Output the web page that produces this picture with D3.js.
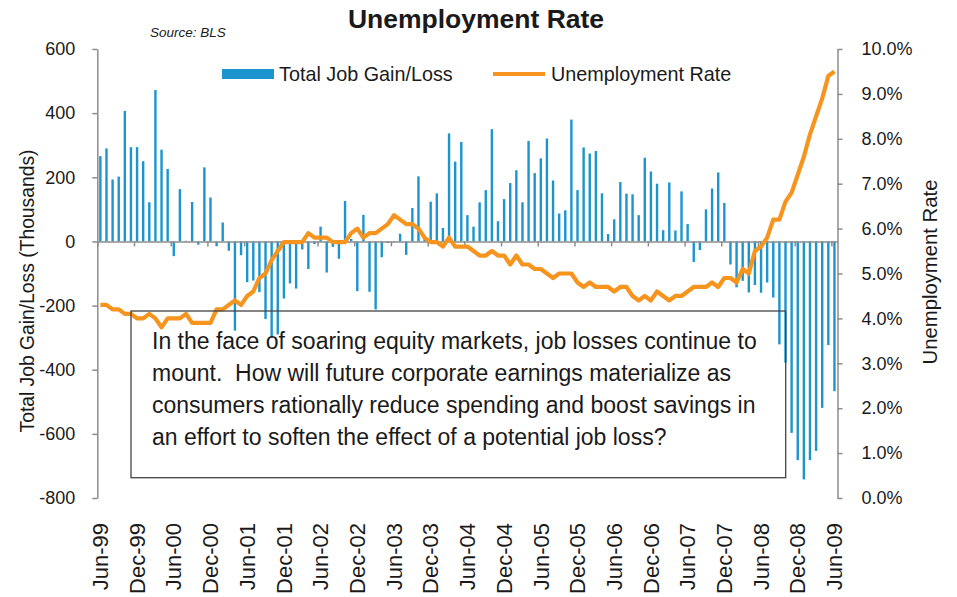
<!DOCTYPE html>
<html>
<head>
<meta charset="utf-8">
<script src="https://cdn.jsdelivr.net/npm/d3@7"></script>
<style>
  body { margin: 0; background: #fff; }
  svg { display: block; }
  text { font-family: "Liberation Sans", Arial, sans-serif; fill: #1a1a1a; }
</style>
</head>
<body>
<div id="chart"></div>
<script>

// monthly payroll change (thousands), Jun-99 .. Jun-09
var jobChange = [
  266, 290, 193, 202, 407, 294, 294, 250, 122, 472, 286, 226,    // Jun-99 .. May-00
  -46, 163, 2, 123, -10, 231, 137, -15, 59, -29, -278, -43,      // Jun-00 .. May-01
  -127, -122, -158, -242, -300, -290, -178, -131, -147, -25, -86, -8,   // Jun-01 .. May-02
  46, -97, -17, -54, 126, 8, -155, 83, -157, -212, -49, -5,      // Jun-02 .. May-03
  -2, 24, -42, 104, 203, 17, 124, 150, 42, 337, 249, 310,        // Jun-03 .. May-04
  82, 46, 122, 160, 350, 63, 132, 182, 222, 122, 313, 213,       // Jun-04 .. May-05
  259, 321, 190, 87, 97, 380, 160, 293, 274, 282, 150, 23,       // Jun-05 .. May-06
  69, 185, 149, 147, 82, 261, 218, 180, 35, 184, 34, 156,        // Jun-06 .. May-07
  54, -64, -27, 100, 165, 215, 120, -72, -143, -123, -159, -136, // Jun-07 .. May-08
  -160, -128, -175, -321, -378, -597, -682, -742, -682, -653, -519, -323, // Jun-08 .. May-09
  -467                                                           // Jun-09
];

// unemployment rate (%), same months
var unempRate = [
  4.3, 4.3, 4.2, 4.2, 4.1, 4.1, 4.0, 4.0, 4.1, 4.0, 3.8, 4.0,
  4.0, 4.0, 4.1, 3.9, 3.9, 3.9, 3.9, 4.2, 4.2, 4.3, 4.4, 4.3,
  4.5, 4.6, 4.9, 5.0, 5.3, 5.5, 5.7, 5.7, 5.7, 5.7, 5.9, 5.8,
  5.8, 5.8, 5.7, 5.7, 5.7, 5.9, 6.0, 5.8, 5.9, 5.9, 6.0, 6.1,
  6.3, 6.2, 6.1, 6.1, 6.0, 5.8, 5.7, 5.7, 5.6, 5.8, 5.6, 5.6,
  5.6, 5.5, 5.4, 5.4, 5.5, 5.4, 5.4, 5.2, 5.4, 5.2, 5.2, 5.1,
  5.1, 5.0, 4.9, 5.0, 5.0, 5.0, 4.8, 4.7, 4.8, 4.7, 4.7, 4.7,
  4.6, 4.7, 4.7, 4.5, 4.4, 4.5, 4.4, 4.6, 4.5, 4.4, 4.5, 4.5,
  4.6, 4.7, 4.7, 4.7, 4.8, 4.7, 4.9, 4.9, 4.8, 5.1, 5.0, 5.5,
  5.6, 5.8, 6.2, 6.2, 6.6, 6.8, 7.2, 7.6, 8.1, 8.5, 8.9, 9.4,
  9.5
];

var xTickLabels = ["Jun-99", "Dec-99", "Jun-00", "Dec-00", "Jun-01", "Dec-01", "Jun-02",
  "Dec-02", "Jun-03", "Dec-03", "Jun-04", "Dec-04", "Jun-05", "Dec-05", "Jun-06",
  "Dec-06", "Jun-07", "Dec-07", "Jun-08", "Dec-08", "Jun-09"];

var jobTicks = [-800, -600, -400, -200, 0, 200, 400, 600];
var rateTicks = [0, 1, 2, 3, 4, 5, 6, 7, 8, 9, 10];

var noteLines = [
  "In the face of soaring equity markets, job losses continue to",
  "mount.  How will future corporate earnings materialize as",
  "consumers rationally reduce spending and boost savings in",
  "an effort to soften the effect of a potential job loss?"
];

var width = 957, height = 597;
var plotLeft = 97.3, plotRight = 837.5, plotTop = 49, plotBottom = 498;
var barColor = "#1c95cf", lineColor = "#f7941d", axisColor = "#8c8c8c";

var svg = d3.select("#chart").append("svg")
    .attr("width", width)
    .attr("height", height);

var x = d3.scaleBand()
    .domain(d3.range(jobChange.length))
    .range([plotLeft, plotRight]);

var xEdge = d3.scaleLinear()
    .domain([0, jobChange.length])
    .range([plotLeft, plotRight]);

var yJobs = d3.scaleLinear().domain([-800, 600]).range([plotBottom, plotTop]);
var yRate = d3.scaleLinear().domain([0, 10]).range([plotBottom, plotTop]);

// bars
var barW = 2.4;
svg.append("g").selectAll("rect")
    .data(jobChange)
    .join("rect")
    .attr("x", function(d, i) { return x(i) + (x.bandwidth() - barW) / 2; })
    .attr("y", function(d) { return yJobs(Math.max(0, d)); })
    .attr("width", barW)
    .attr("height", function(d) { return Math.abs(yJobs(d) - yJobs(0)); })
    .attr("fill", barColor);

// category axis through zero
var xAxis = svg.append("g")
    .attr("transform", "translate(0," + yJobs(0) + ")")
    .call(d3.axisBottom(xEdge)
        .tickValues(d3.range(0, jobChange.length, 6))
        .tickFormat("")
        .tickSize(5)
        .tickSizeOuter(0));

// left axis (plain hyphen for negatives, like the original)
var leftAxis = svg.append("g")
    .attr("transform", "translate(" + plotLeft + ",0)")
    .call(d3.axisLeft(yJobs)
        .tickValues(jobTicks)
        .tickFormat(function(d) { return String(d); })
        .tickSize(5)
        .tickSizeOuter(0)
        .tickPadding(17));

// right axis
var rightAxis = svg.append("g")
    .attr("transform", "translate(" + plotRight + ",0)")
    .call(d3.axisRight(yRate)
        .tickValues(rateTicks)
        .tickFormat(function(d) { return d.toFixed(1) + "%"; })
        .tickSize(5)
        .tickSizeOuter(0)
        .tickPadding(19));

[xAxis, leftAxis, rightAxis].forEach(function(g) {
  g.selectAll("path, line").attr("stroke", axisColor).attr("stroke-width", 1.5);
  g.selectAll("text").style("font-size", "18px").attr("fill", "#1a1a1a")
      .style("font-family", "'Liberation Sans', Arial, sans-serif");
});

// month labels at the bottom
svg.append("g").selectAll("text")
    .data(xTickLabels)
    .join("text")
    .attr("transform", function(d, k) {
      return "translate(" + (x(k * 6) + x.bandwidth() / 2) + ",523) rotate(-90)";
    })
    .attr("text-anchor", "end")
    .attr("dy", "0.35em")
    .style("font-size", "22px")
    .text(function(d) { return d; });

// unemployment line
var line = d3.line()
    .x(function(d, i) { return x(i) + x.bandwidth() / 2; })
    .y(function(d) { return yRate(d); });

svg.append("path")
    .datum(unempRate)
    .attr("d", line)
    .attr("fill", "none")
    .attr("stroke", lineColor)
    .attr("stroke-width", 4.2)
    .attr("stroke-linejoin", "round");

// titles
svg.append("text")
    .attr("x", 476).attr("y", 28)
    .attr("text-anchor", "middle")
    .style("font-size", "26.5px").style("font-weight", "bold")
    .text("Unemployment Rate");

svg.append("text")
    .attr("x", 150).attr("y", 37)
    .style("font-size", "13.5px").style("font-style", "italic")
    .text("Source:  BLS");

svg.append("text")
    .attr("transform", "translate(27,291) rotate(-90)")
    .attr("text-anchor", "middle")
    .attr("dy", "0.35em")
    .style("font-size", "19.3px")
    .text("Total Job Gain/Loss (Thousands)");

svg.append("text")
    .attr("transform", "translate(930,272) rotate(-90)")
    .attr("text-anchor", "middle")
    .attr("dy", "0.35em")
    .style("font-size", "20.3px")
    .text("Unemployment Rate");

// legend
svg.append("rect")
    .attr("x", 222).attr("y", 69).attr("width", 52).attr("height", 10)
    .attr("fill", barColor);
svg.append("text")
    .attr("x", 279).attr("y", 81)
    .style("font-size", "19.8px")
    .text("Total Job Gain/Loss");
svg.append("line")
    .attr("x1", 493).attr("x2", 545).attr("y1", 74).attr("y2", 74)
    .attr("stroke", lineColor).attr("stroke-width", 4);
svg.append("text")
    .attr("x", 551).attr("y", 81)
    .style("font-size", "19.8px")
    .text("Unemployment Rate");

// comment box
svg.append("rect")
    .attr("x", 131).attr("y", 311).attr("width", 654.7).attr("height", 166.7)
    .attr("fill", "none")
    .attr("stroke", "#444")
    .attr("stroke-width", 1.3);

svg.append("g").selectAll("text")
    .data(noteLines)
    .join("text")
    .attr("x", 152)
    .attr("y", function(d, i) { return 349 + i * 32; })
    .style("font-size", "23px")
    .style("white-space", "pre")
    .text(function(d) { return d; });

</script>
</body>
</html>
